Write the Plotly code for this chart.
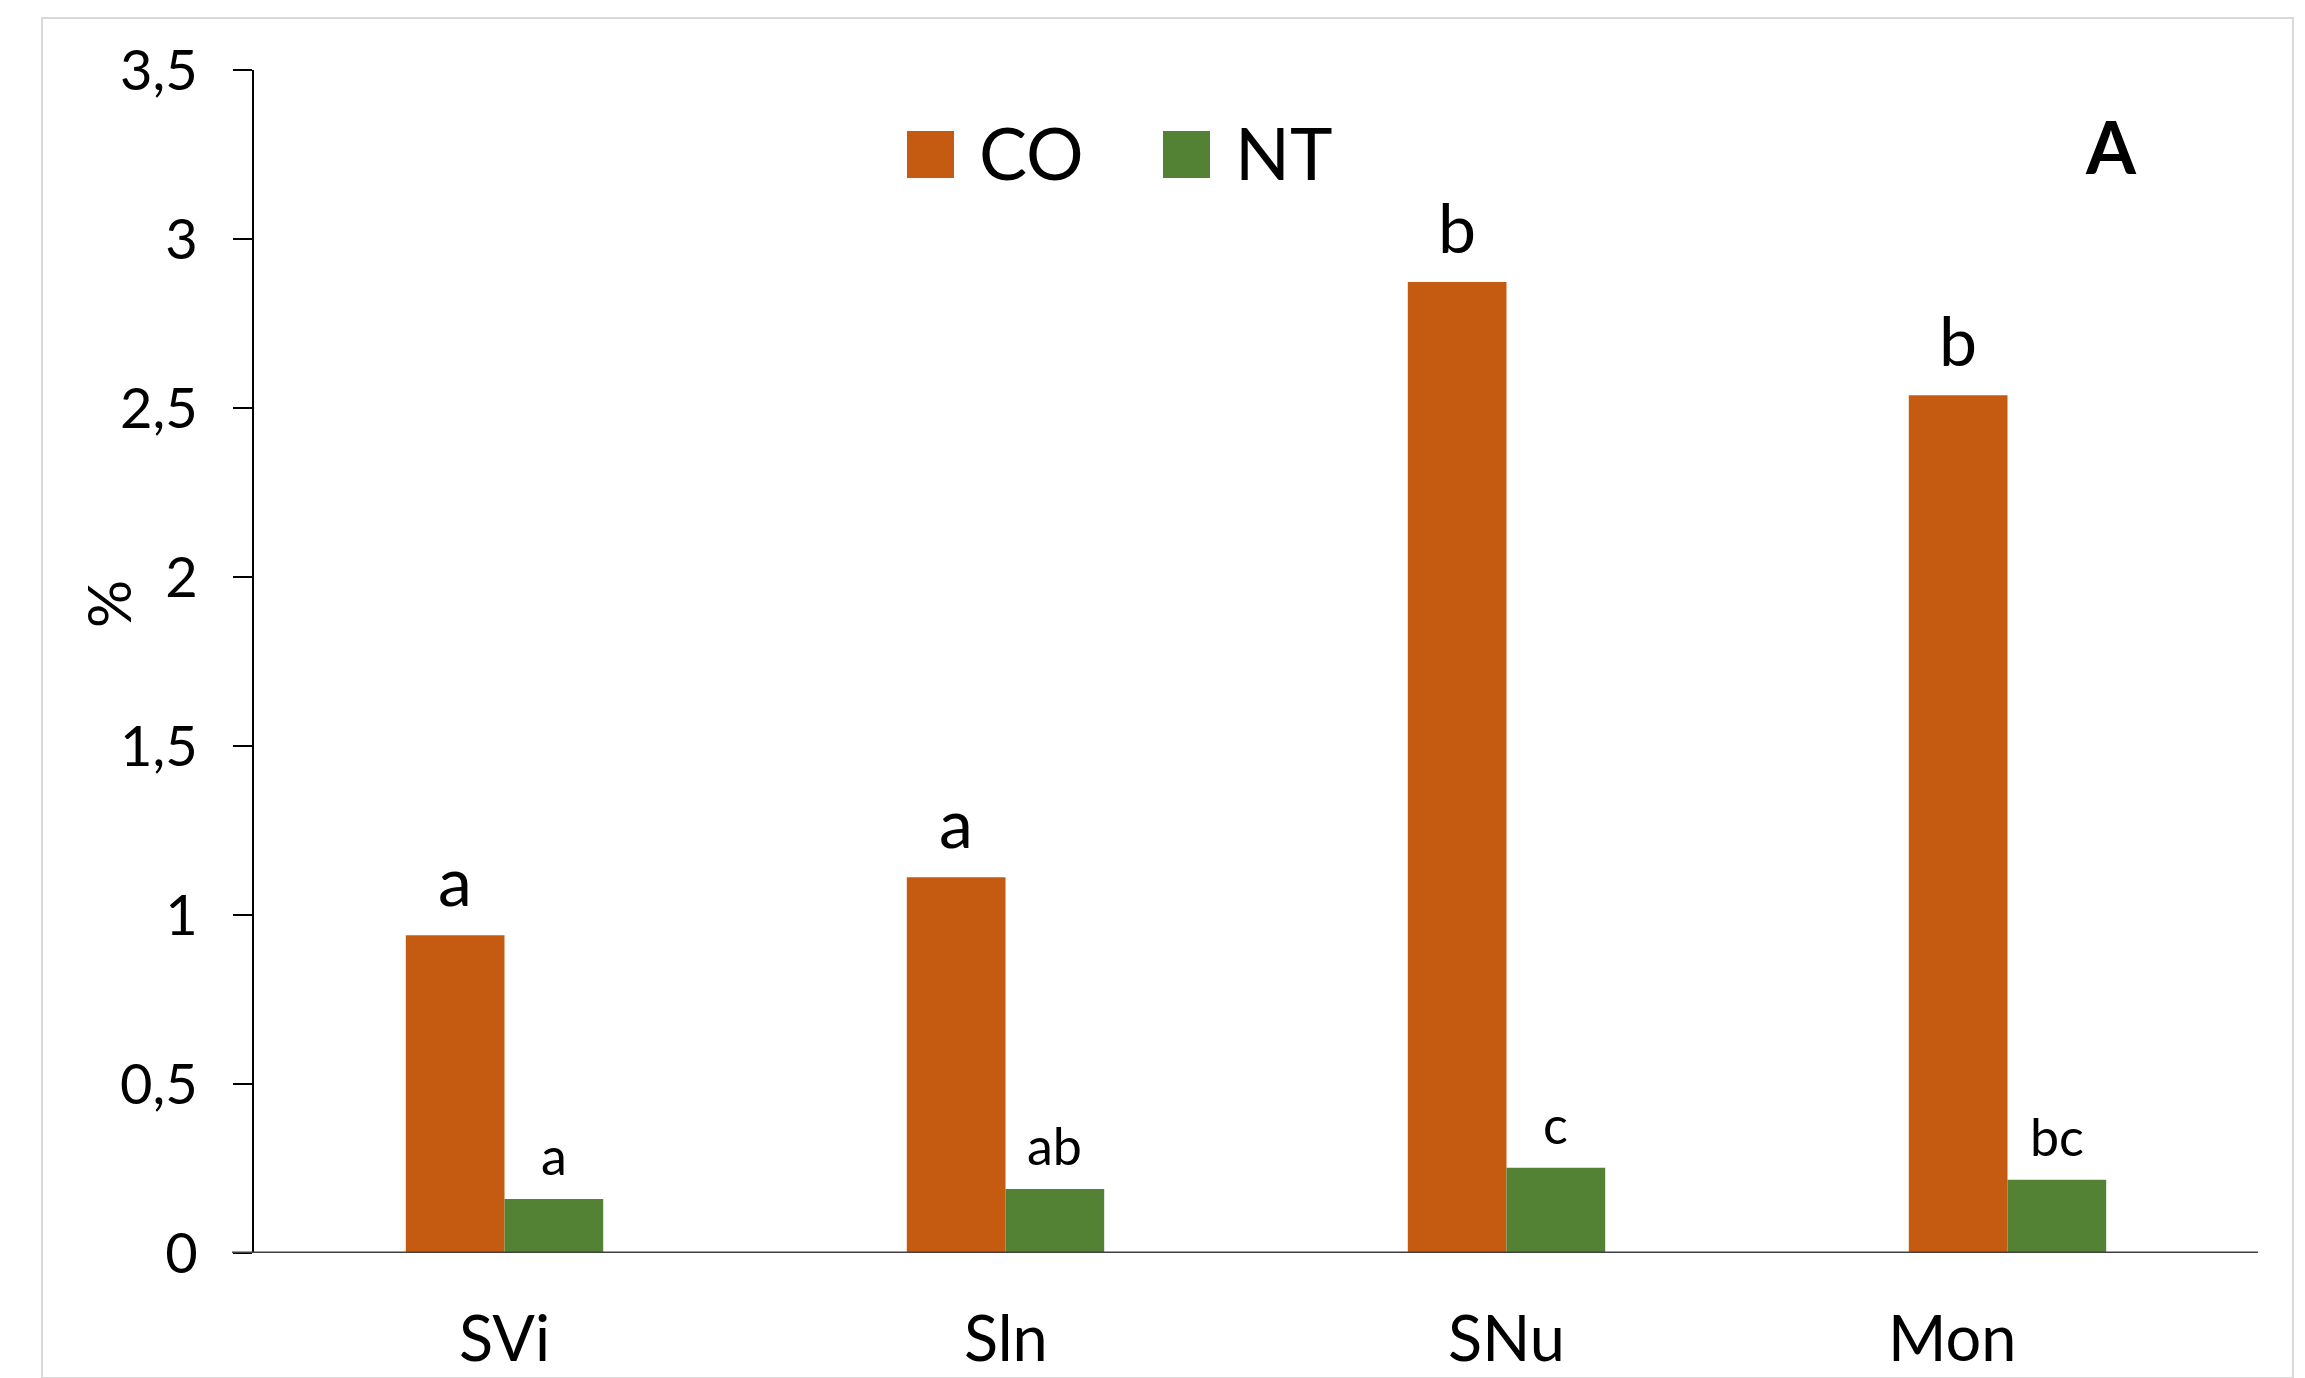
import plotly.graph_objects as go

# Sites and measured percentages
categories = ["SVi", "Sln", "SNu", "Mon"]
co_values = [0.94, 1.112, 2.873, 2.538]
nt_values = [0.16, 0.189, 0.252, 0.217]

# Significance letters shown above each bar
co_letters = ["a", "a", "b", "b"]
nt_letters = ["a", "ab", "c", "bc"]

# Y axis ticks (decimal comma)
y_tickvals = [0, 0.5, 1, 1.5, 2, 2.5, 3, 3.5]
y_ticktext = ["0", "0,5", "1", "1,5", "2", "2,5", "3", "3,5"]

series_names = ["CO", "NT"]
CO_COLOR = "#C55A11"
NT_COLOR = "#548235"

FONT = "Lato"
BAR_W = 0.197

W, H = 2305, 1378
L, R, T, B = 254, 47, 70, 125
PW, PH = W - L - R, H - T - B

# Horizontal nudge (px) for individual category captions
caption_nudge = {"Mon": -56}


def px_x(px):
    return (px - L) / PW


def px_y(py):
    return (H - B - py) / PH


idx = list(range(len(categories)))

fig = go.Figure()
fig.add_trace(go.Bar(
    x=idx, y=co_values, name=series_names[0], marker_color=CO_COLOR,
    marker_line_width=0, width=BAR_W, offset=-BAR_W, showlegend=False,
))
fig.add_trace(go.Bar(
    x=idx, y=nt_values, name=series_names[1], marker_color=NT_COLOR,
    marker_line_width=0, width=BAR_W, offset=0, showlegend=False,
))

annotations = []
for i, (v, t) in enumerate(zip(co_values, co_letters)):
    annotations.append(dict(
        x=i - BAR_W / 2, y=v, xref="x", yref="y", text=t, showarrow=False,
        yanchor="bottom", yshift=13, font=dict(family=FONT, size=68, color="black"),
    ))
for i, (v, t) in enumerate(zip(nt_values, nt_letters)):
    annotations.append(dict(
        x=i + BAR_W / 2, y=v, xref="x", yref="y", text=t, showarrow=False,
        yanchor="bottom", yshift=11, font=dict(family=FONT, size=52, color="black"),
    ))

# Category captions under the axis
for i, name in enumerate(categories):
    annotations.append(dict(
        x=i, y=0, xref="x", yref="y", text=name, showarrow=False,
        xanchor="center", yanchor="top", yshift=-45, borderpad=0,
        xshift=caption_nudge.get(name, 0),
        font=dict(family=FONT, size=63, color="black"),
    ))

# Legend drawn as large swatches with labels
legend_items = [(series_names[0], CO_COLOR, 907), (series_names[1], NT_COLOR, 1163)]
shapes = []
for name, color, left in legend_items:
    shapes.append(dict(
        type="rect", xref="paper", yref="paper",
        x0=px_x(left), x1=px_x(left + 47), y0=px_y(178), y1=px_y(131),
        fillcolor=color, line=dict(width=0),
    ))
    annotations.append(dict(
        x=px_x(left + 70), y=px_y(152), xref="paper", yref="paper", text=name,
        showarrow=False, xanchor="left", yanchor="middle",
        font=dict(family=FONT, size=72, color="black"),
    ))

# Panel letter
annotations.append(dict(
    x=px_x(2111), y=px_y(146), xref="paper", yref="paper", text="<b>A</b>",
    showarrow=False, xanchor="center", yanchor="middle",
    font=dict(family=FONT, size=72, color="black"),
))

# Y axis title
annotations.append(dict(
    x=px_x(108), y=px_y(604), xref="paper", yref="paper", text="%",
    showarrow=False, textangle=-90, xanchor="center", yanchor="middle",
    font=dict(family=FONT, size=60, color="black"),
))

# Baseline, extending slightly left of the y axis
shapes.append(dict(
    type="line", xref="paper", yref="y", x0=px_x(232), x1=1, y0=0, y1=0,
    line=dict(color="#404040", width=3),
))

# Light outer frame
shapes.append(dict(
    type="rect", xref="paper", yref="paper",
    x0=px_x(42), x1=px_x(2293), y0=px_y(1378), y1=px_y(18),
    line=dict(color="#d9d9d9", width=2), fillcolor="rgba(0,0,0,0)", layer="below",
))

fig.update_layout(
    width=W, height=H,
    margin=dict(l=L, r=R, t=T, b=B),
    paper_bgcolor="white", plot_bgcolor="white",
    barmode="overlay",
    annotations=annotations, shapes=shapes,
    showlegend=False,
)
fig.update_xaxes(
    tickmode="array", tickvals=idx, ticktext=[""] * len(categories),
    range=[-0.5, len(categories) - 0.5],
    showline=False, showgrid=False, zeroline=False, ticks="",
    showticklabels=False,
)
fig.update_yaxes(
    range=[0, 3.5], tickmode="array", tickvals=y_tickvals, ticktext=y_ticktext,
    showline=True, linecolor="black", linewidth=2,
    ticks="outside", ticklen=19, tickwidth=2, tickcolor="black",
    showgrid=False, zeroline=False,
    ticklabelstandoff=24,
    tickfont=dict(family=FONT, size=56, color="black"),
)

fig.write_html("out.html")
